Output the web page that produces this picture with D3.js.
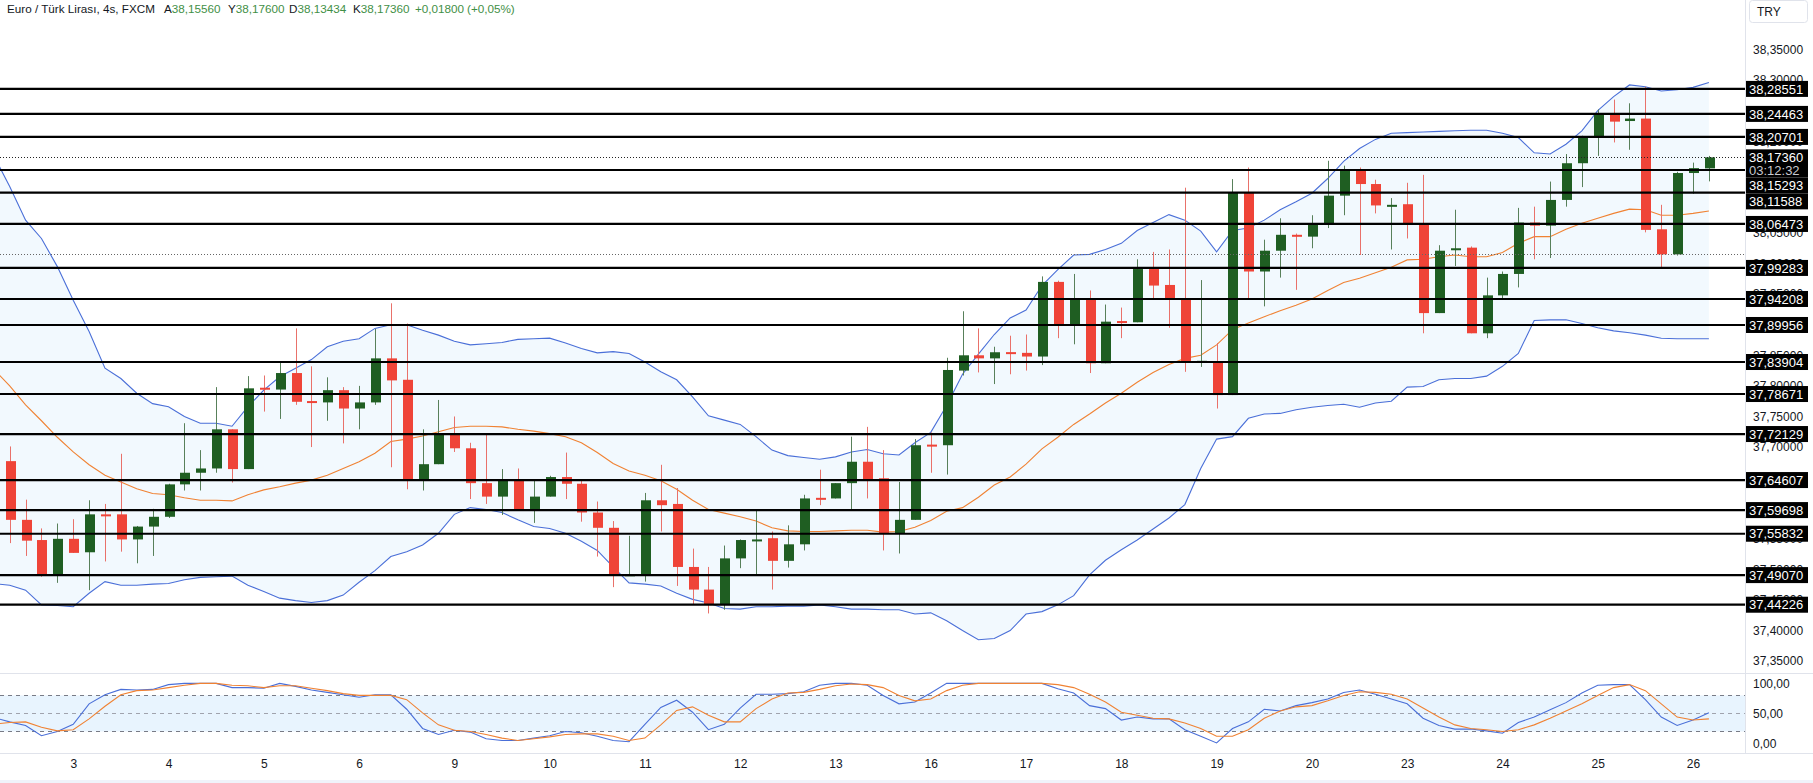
<!DOCTYPE html>
<html><head><meta charset="utf-8">
<script src="https://cdnjs.cloudflare.com/ajax/libs/d3/7.8.5/d3.min.js"></script>
<style>
html,body{margin:0;padding:0;background:#fff;overflow:hidden;}
svg{display:block;font-family:"Liberation Sans",Arial,sans-serif;}
</style></head><body>
<svg id="chart" width="1813" height="783"></svg>
<script>
// ---------------- DATA ----------------
// first category ("2 04:00") lies just left of the visible area: only its indicator values show
const dayList = ["2","3","4","5","6","9","10","11","12","13","16","17","18","19","20","23","24","25","26"];
const hourList = ["00","04","08","12","16","20"];
const tickLabels = ["3","4","5","6","9","10","11","12","13","16","17","18","19","20","23","24","25","26"];

const open  = [null,37.677,37.581,37.548,37.492,37.550,37.528,37.590,37.590,37.549,37.570,
37.586,37.639,37.658,37.665,37.729,37.664,37.797,37.794,37.821,37.7752,
37.773,37.793,37.763,37.773,37.845,37.810,37.646,37.672,37.721,37.698,
37.641,37.619,37.646,37.597,37.619,37.651,37.640,37.593,37.568,37.491,
37.492,37.613,37.607,37.504,37.467,37.442,37.518,37.548,37.551,37.514,
37.541,37.617,37.616,37.641,37.676,37.649,37.558,37.581,37.704,37.703,
37.825,37.850,37.845,37.8552,37.854,37.848,37.970,37.899,37.943,37.837,
37.906,37.904,37.991,37.965,37.943,37.838,37.840,37.785,38.116,37.987,
38.021,38.047,38.044,38.064,38.111,38.153,38.130,38.095,38.097,38.065,
37.919,38.022,38.026,37.886,37.948,37.983,38.067,38.062,38.104,38.164,
38.207,38.246,38.233,38.237,38.056,38.015,38.148,38.1556];
const high  = [null,37.701,37.614,37.567,37.575,37.582,37.613,37.607,37.689,37.571,37.599,
37.640,37.739,37.695,37.798,37.729,37.816,37.817,37.838,37.894,37.832,
37.814,37.798,37.800,37.893,37.935,37.902,37.729,37.777,37.750,37.707,
37.722,37.664,37.665,37.645,37.653,37.691,37.646,37.611,37.579,37.555,
37.625,37.671,37.633,37.534,37.504,37.539,37.549,37.597,37.562,37.572,
37.622,37.663,37.641,37.717,37.733,37.695,37.643,37.713,37.724,37.846,
37.922,37.894,37.864,37.882,37.884,37.979,37.972,37.983,37.956,37.933,
37.928,38.007,38.019,38.023,38.124,37.973,37.870,38.138,38.157,38.039,
38.074,38.049,38.079,38.168,38.160,38.157,38.137,38.107,38.132,38.145,
38.030,38.088,38.028,37.977,37.987,38.091,38.093,38.134,38.179,38.209,
38.252,38.268,38.262,38.289,38.096,38.150,38.165,38.176];
const low   = [null,37.543,37.522,37.488,37.478,37.527,37.466,37.513,37.529,37.510,37.522,
37.584,37.629,37.629,37.658,37.642,37.664,37.758,37.746,37.769,37.700,
37.743,37.706,37.729,37.769,37.667,37.631,37.629,37.672,37.692,37.615,
37.607,37.589,37.597,37.576,37.619,37.615,37.578,37.521,37.471,37.490,
37.480,37.562,37.473,37.442,37.428,37.434,37.502,37.491,37.467,37.503,
37.531,37.605,37.616,37.598,37.616,37.531,37.526,37.581,37.658,37.655,
37.817,37.822,37.803,37.819,37.825,37.834,37.878,37.868,37.821,37.837,
37.878,37.904,37.941,37.895,37.823,37.831,37.763,37.785,37.943,37.930,
37.977,37.957,38.025,38.058,38.079,38.014,38.082,38.023,38.041,37.886,
37.919,37.996,37.886,37.878,37.942,37.961,38.007,38.009,38.093,38.125,
38.176,38.198,38.186,38.051,37.994,38.013,38.114,38.13434];
const close = [null,37.581,37.547,37.491,37.550,37.527,37.590,37.589,37.549,37.570,37.586,
37.639,37.658,37.665,37.729,37.664,37.796,37.796,37.821,37.774,37.7747,
37.793,37.763,37.773,37.845,37.809,37.646,37.672,37.720,37.698,37.641,
37.619,37.646,37.597,37.619,37.651,37.640,37.593,37.568,37.491,37.492,
37.613,37.605,37.504,37.467,37.442,37.518,37.548,37.549,37.514,37.541,
37.616,37.616,37.641,37.676,37.647,37.558,37.581,37.703,37.703,37.826,
37.850,37.845,37.855,37.8546,37.848,37.970,37.899,37.943,37.837,37.905,
37.905,37.991,37.964,37.942,37.838,37.841,37.785,38.116,37.987,38.021,
38.047,38.046,38.064,38.111,38.153,38.130,38.095,38.096,38.064,37.919,
38.021,38.025,37.886,37.948,37.983,38.067,38.062,38.104,38.164,38.207,
38.244,38.232,38.237,38.055,38.015,38.148,38.156,38.1736];

const bbUpper = [38.176,38.126,38.071,38.041,37.995,37.940,37.889,37.829,37.812,37.788,37.771,
37.766,37.750,37.739,37.739,37.734,37.766,37.793,37.815,37.829,37.843,
37.864,37.873,37.877,37.894,37.900,37.900,37.891,37.883,37.873,37.867,
37.869,37.871,37.876,37.877,37.878,37.870,37.861,37.854,37.856,37.853,
37.839,37.823,37.810,37.782,37.751,37.744,37.737,37.717,37.695,37.686,
37.683,37.680,37.684,37.692,37.696,37.689,37.687,37.707,37.724,37.768,
37.819,37.852,37.884,37.911,37.924,37.964,37.990,38.014,38.015,38.023,
38.033,38.054,38.067,38.080,38.071,38.053,38.019,38.054,38.058,38.071,
38.088,38.101,38.115,38.139,38.167,38.188,38.203,38.213,38.214,38.215,
38.216,38.217,38.218,38.218,38.213,38.206,38.181,38.179,38.195,38.217,
38.250,38.273,38.292,38.289,38.282,38.284,38.288,38.296];
const bbMiddle = [37.827,37.800,37.769,37.743,37.716,37.692,37.671,37.654,37.643,37.632,37.624,
37.622,37.617,37.613,37.613,37.612,37.622,37.630,37.635,37.641,37.646,
37.654,37.665,37.676,37.690,37.709,37.713,37.718,37.725,37.732,37.734,
37.734,37.733,37.729,37.726,37.722,37.717,37.707,37.691,37.673,37.661,
37.654,37.645,37.631,37.613,37.598,37.592,37.586,37.579,37.568,37.563,
37.562,37.562,37.563,37.564,37.564,37.561,37.562,37.569,37.580,37.595,
37.601,37.618,37.638,37.651,37.672,37.697,37.716,37.737,37.754,37.772,
37.788,37.806,37.822,37.835,37.845,37.850,37.867,37.892,37.903,37.913,
37.923,37.932,37.942,37.956,37.969,37.976,37.985,37.994,38.006,38.007,
38.011,38.014,38.011,38.011,38.018,38.033,38.044,38.044,38.056,38.066,
38.074,38.082,38.089,38.088,38.079,38.079,38.082,38.086];
const bbLower = [37.477,37.474,37.466,37.442,37.441,37.439,37.461,37.480,37.474,37.474,37.476,
37.477,37.483,37.487,37.488,37.489,37.474,37.464,37.453,37.449,37.446,
37.449,37.458,37.479,37.498,37.521,37.529,37.540,37.559,37.590,37.601,
37.598,37.593,37.581,37.570,37.567,37.559,37.546,37.531,37.504,37.478,
37.476,37.473,37.461,37.451,37.445,37.436,37.435,37.439,37.439,37.440,
37.440,37.442,37.439,37.435,37.435,37.434,37.434,37.427,37.429,37.416,
37.400,37.385,37.387,37.400,37.427,37.431,37.442,37.457,37.491,37.515,
37.532,37.548,37.566,37.584,37.606,37.665,37.713,37.717,37.747,37.754,
37.755,37.761,37.765,37.768,37.770,37.765,37.772,37.775,37.798,37.799,
37.810,37.812,37.812,37.816,37.832,37.853,37.907,37.908,37.908,37.902,
37.895,37.890,37.887,37.883,37.878,37.877,37.877,37.877];

const stochK = [43,36,30,13,20,32,66,81,90,89,90,98,100,100,100,93,93,92,100,95,89,
85,81,77,81,81,57,25,15,22,19,8,5,5,9,13,20,18,12,5,3,
32,60,72,52,23,32,59,82,82,83,86,97,100,100,97,80,66,
69,84,100,100,100,100,100,100,100,91,84,63,58,39,44,41,41,23,12,1,
25,36,57,54,63,68,74,85,89,82,74,66,42,30,24,24,21,17,35,44,
56,68,84,97,98,98,73,44,30,39,51];
const stochD = [32,35,36,27,21,23,41,62,81,88,89,93,97,100,100,97,96,93,96,96,92,
88,83,80,80,80,73,51,31,22,20,15,9,5,8,11,15,16,16,12,5,
9,31,55,61,47,36,36,58,74,84,85,90,96,99,98,93,80,
71,74,88,97,100,100,100,100,100,98,93,82,69,52,47,42,41,34,25,12,
12,23,42,54,61,63,71,80,86,85,82,74,59,44,31,25,23,20,23,31,
42,54,66,80,93,98,88,66,44,39,41];

const levels = [38.28551,38.24463,38.20701,38.15293,38.11588,38.06473,37.99283,37.94208,37.89956,
37.83904,37.78671,37.72129,37.64607,37.59698,37.55832,37.49070,37.44226];
const lastPrice = 38.17360;
const lastTimer = "03:12:32";
const refDotted = 38.0153;
const priceTicks = [37.35,37.40,37.45,37.50,37.55,37.60,37.65,37.70,37.75,37.80,37.85,37.90,
37.95,38.00,38.05,38.10,38.15,38.20,38.25,38.30,38.35];
const stochTicks = [0,50,100];
const stochBands = [20,50,80];
const headerTitle = "Euro / Türk Lirası, 4s, FXCM";
const headerKeys = ["A","Y","D","K"];
const headerVals = ["38,15560","38,17600","38,13434","38,17360"];
const headerChange = ["+0,01800","(+0,05%)"];

// ---------------- BUILD ----------------
const candleTimes = [];
dayList.forEach((d,k)=>hourList.forEach(h=>{
  if(k===0 && +h<4) return;
  if(d==="26" && +h>4) return;
  candleTimes.push(d+" "+h+":00");
}));
const tickTimes = candleTimes.filter(t=>t.endsWith(" 00:00"));
const rows = candleTimes.map((t,i)=>({t,o:open[i],h:high[i],l:low[i],c:close[i],
  up:bbUpper[i],mid:bbMiddle[i],lo:bbLower[i],k:stochK[i],d:stochD[i]}));
const candles = rows.filter(r=>r.o!=null);

const W=1813,H=783, plotR=1745, priceB=673, oscT=675, oscB=753;
const svg=d3.select("#chart");
const fmt=v=>v.toFixed(5).replace(".",",");

const x=d3.scalePoint().domain(candleTimes).range([9.7-15.88,1708.9]);
const y=d3.scaleLinear().domain([37.33227,38.43085]).range([672,0]);
const ys=d3.scaleLinear().domain([0,100]).range([743.5,683.4]);

const defs=svg.append("defs");
defs.append("clipPath").attr("id","pc").append("rect")
  .attr("x",0).attr("y",0).attr("width",plotR).attr("height",priceB);
defs.append("clipPath").attr("id","oc").append("rect")
  .attr("x",0).attr("y",oscT).attr("width",plotR).attr("height",oscB-oscT);

const pg=svg.append("g").attr("clip-path","url(#pc)");

// Bollinger fill + lines
pg.append("path").datum(rows)
  .attr("d",d3.area().x(d=>x(d.t)).y0(d=>y(d.lo)).y1(d=>y(d.up)))
  .attr("fill","rgba(33,150,243,0.06)");
const ln=(acc,sc)=>d3.line().x(d=>x(d.t)).y(d=>sc(acc(d)));
pg.append("path").datum(rows).attr("d",ln(d=>d.up,y)).attr("fill","none").attr("stroke","#4a6fd8").attr("stroke-width",1.1);
pg.append("path").datum(rows).attr("d",ln(d=>d.lo,y)).attr("fill","none").attr("stroke","#4a6fd8").attr("stroke-width",1.1);
pg.append("path").datum(rows).attr("d",ln(d=>d.mid,y)).attr("fill","none").attr("stroke","#f08233").attr("stroke-width",1.1);

// candles
const upC="#1f5e22", dnC="#ef4438", upW="#58805a", dnW="#e9716a";
const cg=pg.append("g");
cg.selectAll("line").data(candles).join("line")
  .attr("x1",d=>Math.round(x(d.t))+0.5).attr("x2",d=>Math.round(x(d.t))+0.5)
  .attr("y1",d=>y(d.h)).attr("y2",d=>y(d.l))
  .attr("stroke",d=>d.c>=d.o?upW:dnW).attr("stroke-width",1);
cg.selectAll("rect").data(candles).join("rect")
  .attr("x",d=>Math.round(x(d.t))-4).attr("width",10)
  .attr("y",d=>Math.min(y(d.o),y(d.c)))
  .attr("height",d=>Math.max(2,Math.abs(y(d.o)-y(d.c))))
  .attr("fill",d=>d.c>=d.o?upC:dnC);

// horizontal levels
pg.selectAll("line.lvl").data(levels).join("line").attr("class","lvl")
  .attr("x1",0).attr("x2",plotR).attr("y1",d=>y(d)).attr("y2",d=>y(d))
  .attr("stroke","#000").attr("stroke-width",2.2);
pg.append("line").attr("x1",0).attr("x2",plotR).attr("y1",Math.round(y(lastPrice))+0.5).attr("y2",Math.round(y(lastPrice))+0.5)
  .attr("stroke","#222").attr("stroke-dasharray","1,2");
pg.append("line").attr("x1",0).attr("x2",plotR).attr("y1",Math.round(y(refDotted))+0.5).attr("y2",Math.round(y(refDotted))+0.5)
  .attr("stroke","#666").attr("stroke-dasharray","1,2");

// oscillator
const og=svg.append("g").attr("clip-path","url(#oc)");
og.append("rect").attr("x",0).attr("width",plotR).attr("y",ys(80)).attr("height",ys(20)-ys(80)).attr("fill","rgba(33,150,243,0.1)");
og.selectAll("line.band").data(stochBands).join("line").attr("class","band")
  .attr("x1",0).attr("x2",plotR).attr("y1",d=>Math.round(ys(d))+0.5).attr("y2",d=>Math.round(ys(d))+0.5)
  .attr("stroke",d=>d===50?"#a0a3ad":"#787b86").attr("stroke-dasharray","4,4");
og.append("path").datum(rows).attr("d",ln(d=>d.k,ys)).attr("fill","none").attr("stroke","#4a6fd8").attr("stroke-width",1.1);
og.append("path").datum(rows).attr("d",ln(d=>d.d,ys)).attr("fill","none").attr("stroke","#f08233").attr("stroke-width",1.1);

// separators
svg.append("line").attr("x1",0).attr("x2",W).attr("y1",oscT-1.5).attr("y2",oscT-1.5).attr("stroke","#e0e3eb");
svg.append("line").attr("x1",0).attr("x2",W).attr("y1",oscB+0.5).attr("y2",oscB+0.5).attr("stroke","#e0e3eb");
svg.append("line").attr("x1",plotR+0.5).attr("x2",plotR+0.5).attr("y1",0).attr("y2",oscB).attr("stroke","#e0e3eb");
svg.append("rect").attr("x",0).attr("y",780).attr("width",W).attr("height",3).attr("fill","#f0f3fa");

// right price axis
const ra=svg.append("g").attr("transform",`translate(${plotR},0)`)
  .call(d3.axisRight(y).tickValues(priceTicks).tickFormat(fmt).tickSize(0).tickPadding(8));
ra.select(".domain").remove();
ra.selectAll("text").attr("fill","#131722").style("font-size","12px").style("font-family","Liberation Sans, Arial");

const sa=svg.append("g").attr("transform",`translate(${plotR},0)`)
  .call(d3.axisRight(ys).tickValues(stochTicks).tickFormat(d=>d.toFixed(2).replace(".",",")).tickSize(0).tickPadding(8));
sa.select(".domain").remove();
sa.selectAll("text").attr("fill","#131722").style("font-size","12px").style("font-family","Liberation Sans, Arial");

// bottom time axis
const ba=svg.append("g").attr("transform",`translate(0,${oscB})`)
  .call(d3.axisBottom(x).tickValues(tickTimes).tickFormat((t,i)=>tickLabels[i]).tickSize(0).tickPadding(6));
ba.select(".domain").remove();
ba.selectAll("text").attr("fill","#131722").style("font-size","12px").style("font-family","Liberation Sans, Arial");

// level labels with collision avoidance
const boxes=levels.map(v=>({v,h:16,lines:[fmt(v)]}));
boxes.push({v:lastPrice,h:28,lines:[fmt(lastPrice),lastTimer]});
boxes.sort((a,b)=>y(a.v)-y(b.v));
let prevBottom=-1e9;
boxes.forEach(b=>{
  let top=y(b.v)-8;
  if(top<prevBottom) top=prevBottom;
  b.top=top; prevBottom=top+b.h;
});
const lg=svg.append("g");
boxes.forEach(b=>{
  lg.append("rect").attr("x",plotR+1).attr("y",b.top).attr("width",62).attr("height",b.h).attr("fill","#000");
  b.lines.forEach((s,j)=>{
    lg.append("text").attr("x",plotR+4).attr("y",b.top+8+j*13).attr("dy","0.36em")
      .attr("fill",j===0?"#fff":"#c8cad0").style("font-size","13px").text(s);
  });
});

// TRY box
svg.append("rect").attr("x",1749.5).attr("y",0.5).attr("width",58).attr("height",22).attr("rx",3)
  .attr("fill","#fff").attr("stroke","#e0e3eb");
svg.append("text").attr("x",1757).attr("y",12).attr("dy","0.36em").attr("fill","#131722").style("font-size","12px").text("TRY");

// header: segments placed at the reference's x positions
const grn="#3f8f46";
const hg=svg.append("g").style("font-size","11.7px");
const ht=(xp,s,col)=>hg.append("text").attr("x",xp).attr("y",9).attr("dy","0.36em").attr("fill",col).text(s);
ht(7,headerTitle,"#131722");
const keyX=[164,228,289,353];
headerKeys.forEach((k,i)=>{
  const t=ht(keyX[i],k,"#131722");
  ht(keyX[i]+t.node().getComputedTextLength(),headerVals[i],grn);
});
ht(415,headerChange[0],grn);
ht(467,headerChange[1],grn);
</script>
</body></html>
